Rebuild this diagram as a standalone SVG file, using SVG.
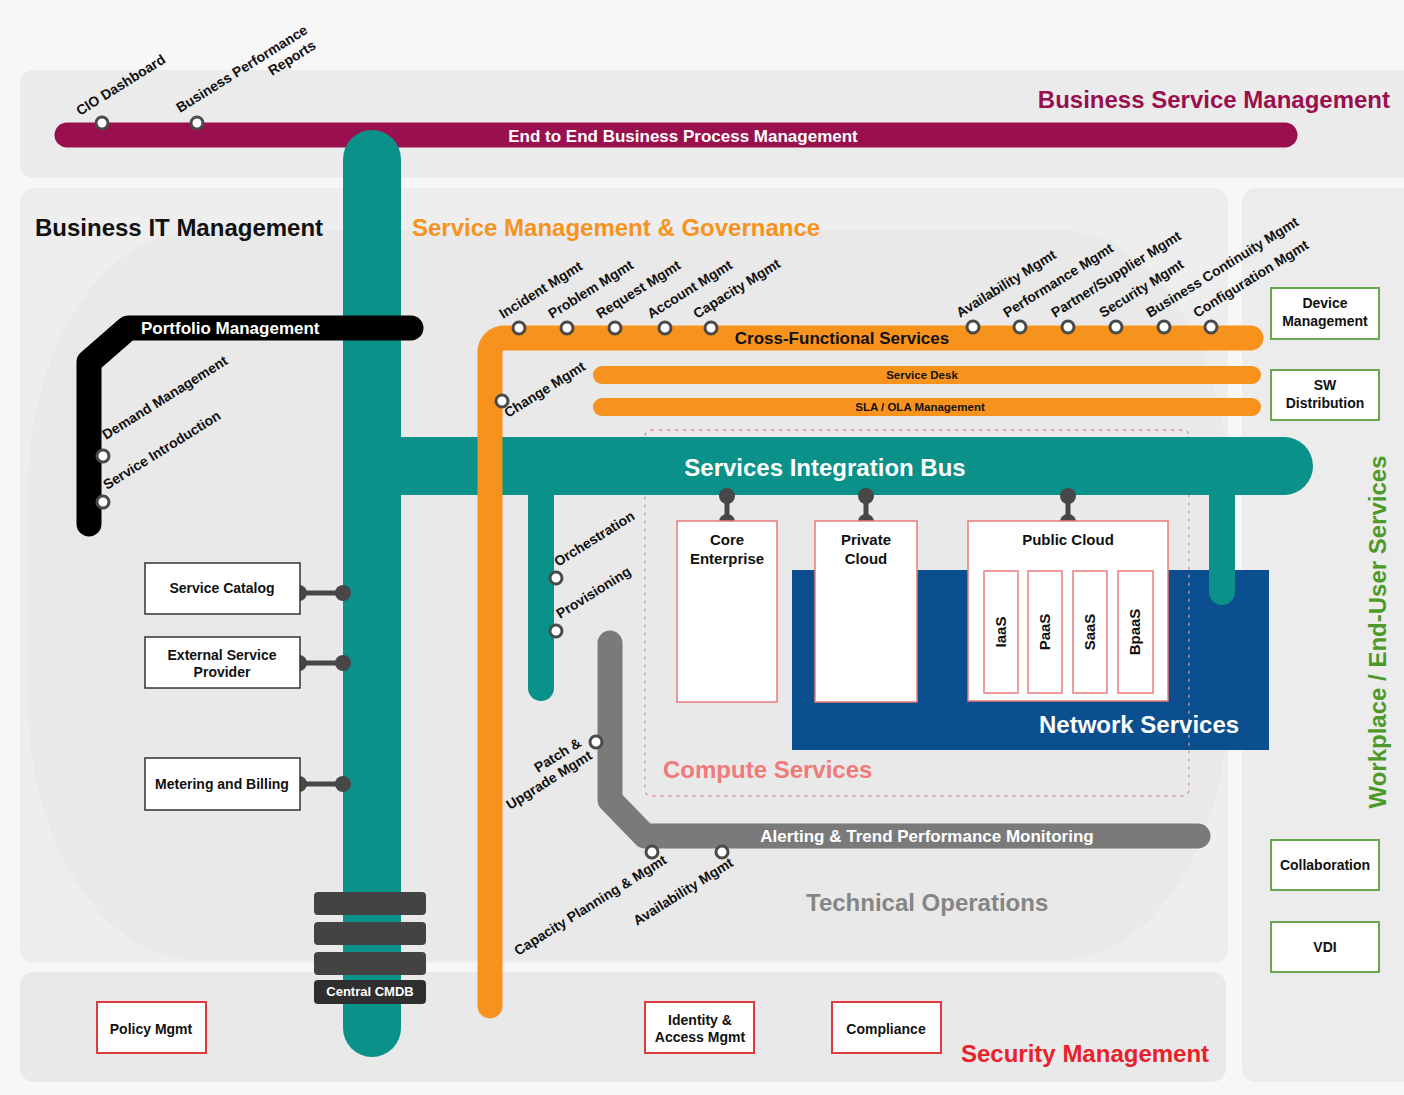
<svg xmlns="http://www.w3.org/2000/svg" width="1404" height="1095" viewBox="0 0 1404 1095">
  <style>
    text { font-family: "Liberation Sans", Arial, sans-serif; font-weight: bold; }
    .lbl { font-size: 14px; fill: #111; }
    .box { fill: #fff; stroke: #333; stroke-width: 1.5; }
    .gbox { fill: #fff; stroke: #6aa84f; stroke-width: 2; }
    .rbox { fill: #fff; stroke: #e0393e; stroke-width: 2; }
    .pbox { fill: #fff; stroke: #ec7b7b; stroke-width: 1.5; }
    .btxt { font-size: 14px; fill: #111; text-anchor: middle; }
    .ctxt { font-size: 15px; fill: #111; text-anchor: middle; }
    .stn { fill: #fff; stroke: #4a4a4a; stroke-width: 3; }
    .dot { fill: #474747; }
    .link { stroke: #474747; stroke-width: 5; }
    .line { fill: none; stroke-linecap: round; }
    .cmdb { fill: #434343; }
  </style>

  <!-- backdrop and area panels -->
  <rect x="0" y="0" width="1404" height="1095" fill="#f7f7f7"/>
  <rect x="20" y="70" width="1400" height="108" rx="14" fill="#ebebeb"/>
  <rect x="20" y="188" width="1208" height="775" rx="14" fill="#eeeeee"/>
  <rect x="28" y="230" width="1200" height="730" rx="170" ry="260" fill="#e9e9e9"/>
  <rect x="1242" y="188" width="180" height="894" rx="14" fill="#ececec"/>
  <rect x="20" y="972" width="1206" height="110" rx="14" fill="#e9e9e9"/>

  <!-- area titles -->
  <text x="1390" y="108" font-size="24" fill="#9a0f4e" text-anchor="end">Business Service Management</text>
  <text x="35" y="236" font-size="24" fill="#111">Business IT Management</text>
  <text x="412" y="236" font-size="24" fill="#f7931d">Service Management &amp; Governance</text>
  <text x="806" y="911" font-size="24" fill="#858585">Technical Operations</text>
  <text x="961" y="1062" font-size="24" fill="#e8222a">Security Management</text>
  <text transform="translate(1386,632) rotate(-90)" font-size="24" fill="#4d9a29" text-anchor="middle">Workplace / End-User Services</text>

  <!-- compute and network zones -->
  <rect x="792" y="570" width="477" height="180" fill="#0c4f8e"/>
  <rect x="645" y="430" width="544" height="366" rx="6" fill="none" stroke="#e09090" stroke-width="1.3" stroke-dasharray="3 5"/>
  <text x="663" y="778" font-size="24" fill="#f07a7a">Compute Services</text>
  <text x="1039" y="733" font-size="24" fill="#fff">Network Services</text>

  <!-- line network -->
  <g id="connectors">
    <path class="line" d="M67,135 L1285,135" stroke="#9a0f4e" stroke-width="25"/>
    <path class="line" d="M372,159 L372,1028" stroke="#0a9189" stroke-width="58"/>
    <path class="line" d="M372,466 L1284,466" stroke="#0a9189" stroke-width="58"/>
    <path class="line" d="M541,480 L541,688" stroke="#0a9189" stroke-width="26"/>
    <path class="line" d="M1222,480 L1222,592" stroke="#0a9189" stroke-width="26"/>
    <path class="line" d="M411,328 L128,328 L89,362 L89,524" stroke="#000" stroke-width="25" stroke-linejoin="round"/>
    <path class="line" d="M490,1006 L490,352 A14,14 0 0 1 504,338 L1251,338" stroke="#f7931d" stroke-width="25"/>
    <path class="line" d="M602,375 L1252,375" stroke="#f7931d" stroke-width="18"/>
    <path class="line" d="M602,407 L1252,407" stroke="#f7931d" stroke-width="18"/>
    <path class="line" d="M610,643 L610,800 L645,836 L1198,836" stroke="#7a7a7a" stroke-width="25" stroke-linejoin="round"/>

    <!-- attachment links -->
    <line class="link" x1="299" y1="593" x2="343" y2="593"/>
    <circle class="dot" cx="299" cy="593" r="8"/><circle class="dot" cx="343" cy="593" r="8"/>
    <line class="link" x1="299" y1="663" x2="343" y2="663"/>
    <circle class="dot" cx="299" cy="663" r="8"/><circle class="dot" cx="343" cy="663" r="8"/>
    <line class="link" x1="299" y1="784" x2="343" y2="784"/>
    <circle class="dot" cx="299" cy="784" r="8"/><circle class="dot" cx="343" cy="784" r="8"/>
    <line class="link" x1="727" y1="496" x2="727" y2="522"/>
    <circle class="dot" cx="727" cy="496" r="8"/><circle class="dot" cx="727" cy="522" r="8"/>
    <line class="link" x1="866" y1="496" x2="866" y2="522"/>
    <circle class="dot" cx="866" cy="496" r="8"/><circle class="dot" cx="866" cy="522" r="8"/>
    <line class="link" x1="1068" y1="496" x2="1068" y2="522"/>
    <circle class="dot" cx="1068" cy="496" r="8"/><circle class="dot" cx="1068" cy="522" r="8"/>
  </g>

  <!-- line titles -->
  <text x="683" y="142" font-size="17" fill="#fff" text-anchor="middle">End to End Business Process Management</text>
  <text x="141" y="334" font-size="17" fill="#fff">Portfolio Management</text>
  <text x="842" y="344" font-size="17" fill="#111" text-anchor="middle">Cross-Functional Services</text>
  <text x="922" y="379" font-size="11.5" fill="#111" text-anchor="middle">Service Desk</text>
  <text x="920" y="411" font-size="11.5" fill="#111" text-anchor="middle">SLA / OLA Management</text>
  <text x="825" y="476" font-size="24" fill="#fff" text-anchor="middle">Services Integration Bus</text>
  <text x="927" y="842" font-size="17" fill="#fff" text-anchor="middle">Alerting &amp; Trend Performance Monitoring</text>

  <!-- stations -->
  <g id="stations">
    <circle class="stn" cx="102" cy="123" r="6"/>
    <circle class="stn" cx="197" cy="123" r="6"/>
    <circle class="stn" cx="519" cy="328" r="6"/>
    <circle class="stn" cx="567" cy="328" r="6"/>
    <circle class="stn" cx="615" cy="328" r="6"/>
    <circle class="stn" cx="665" cy="328" r="6"/>
    <circle class="stn" cx="711" cy="328" r="6"/>
    <circle class="stn" cx="973" cy="327" r="6"/>
    <circle class="stn" cx="1020" cy="327" r="6"/>
    <circle class="stn" cx="1068" cy="327" r="6"/>
    <circle class="stn" cx="1116" cy="327" r="6"/>
    <circle class="stn" cx="1164" cy="327" r="6"/>
    <circle class="stn" cx="1211" cy="327" r="6"/>
    <circle class="stn" cx="502" cy="401" r="6"/>
    <circle class="stn" cx="103" cy="456" r="6"/>
    <circle class="stn" cx="103" cy="502" r="6"/>
    <circle class="stn" cx="556" cy="578" r="6"/>
    <circle class="stn" cx="556" cy="631" r="6"/>
    <circle class="stn" cx="596" cy="742" r="6"/>
    <circle class="stn" cx="652" cy="852" r="6"/>
    <circle class="stn" cx="722" cy="852" r="6"/>
  </g>

  <!-- station labels -->
  <g id="station-labels">
    <text class="lbl" transform="translate(80,116) rotate(-32)">CIO Dashboard</text>
    <text class="lbl" transform="translate(180,113) rotate(-32)">Business Performance</text>
    <text class="lbl" transform="translate(272,76) rotate(-32)">Reports</text>
    <text class="lbl" transform="translate(503,319) rotate(-32)">Incident Mgmt</text>
    <text class="lbl" transform="translate(552,319) rotate(-32)">Problem Mgmt</text>
    <text class="lbl" transform="translate(600,319) rotate(-32)">Request Mgmt</text>
    <text class="lbl" transform="translate(651,319) rotate(-32)">Account Mgmt</text>
    <text class="lbl" transform="translate(697,319) rotate(-32)">Capacity Mgmt</text>
    <text class="lbl" transform="translate(960,318) rotate(-32)">Availability Mgmt</text>
    <text class="lbl" transform="translate(1007,318) rotate(-32)">Performance Mgmt</text>
    <text class="lbl" transform="translate(1055,318) rotate(-32)">Partner/Supplier Mgmt</text>
    <text class="lbl" transform="translate(1103,318) rotate(-32)">Security Mgmt</text>
    <text class="lbl" transform="translate(1150,318) rotate(-32)">Business Continuity Mgmt</text>
    <text class="lbl" transform="translate(1197,318) rotate(-32)">Configuration Mgmt</text>
    <text class="lbl" transform="translate(508,418) rotate(-32)">Change Mgmt</text>
    <text class="lbl" transform="translate(106,440) rotate(-32)">Demand Management</text>
    <text class="lbl" transform="translate(107,490) rotate(-32)">Service Introduction</text>
    <text class="lbl" transform="translate(558,567) rotate(-32)">Orchestration</text>
    <text class="lbl" transform="translate(560,619) rotate(-32)">Provisioning</text>
    <text class="lbl" transform="translate(538,773) rotate(-32)">Patch &amp;</text>
    <text class="lbl" transform="translate(510,810) rotate(-32)">Upgrade Mgmt</text>
    <text class="lbl" transform="translate(518,956) rotate(-32)">Capacity Planning &amp; Mgmt</text>
    <text class="lbl" transform="translate(637,926) rotate(-32)">Availability Mgmt</text>
  </g>

  <!-- IT management boxes -->
  <g id="service-catalog">
    <rect class="box" x="145" y="563" width="155" height="51"/>
    <text class="btxt" x="222" y="593">Service Catalog</text>
  </g>
  <g id="external-service-provider">
    <rect class="box" x="145" y="637" width="155" height="51"/>
    <text class="btxt" x="222" y="660">External Service</text>
    <text class="btxt" x="222" y="677">Provider</text>
  </g>
  <g id="metering-billing">
    <rect class="box" x="145" y="758" width="155" height="52"/>
    <text class="btxt" x="222" y="789">Metering and Billing</text>
  </g>

  <!-- configuration database stack -->
  <g id="central-cmdb">
    <rect class="cmdb" x="314" y="892" width="112" height="23" rx="4"/>
    <rect class="cmdb" x="314" y="922" width="112" height="23" rx="4"/>
    <rect class="cmdb" x="314" y="952" width="112" height="23" rx="4"/>
    <rect x="314" y="980" width="112" height="24" rx="4" fill="#2f2f2f"/>
    <text x="370" y="996" font-size="13" fill="#fff" text-anchor="middle">Central CMDB</text>
  </g>

  <!-- compute boxes -->
  <g id="core-enterprise">
    <rect class="pbox" x="677" y="521" width="100" height="181"/>
    <text class="ctxt" x="727" y="545">Core</text>
    <text class="ctxt" x="727" y="564">Enterprise</text>
  </g>
  <g id="private-cloud">
    <rect class="pbox" x="815" y="521" width="102" height="181"/>
    <text class="ctxt" x="866" y="545">Private</text>
    <text class="ctxt" x="866" y="564">Cloud</text>
  </g>
  <g id="public-cloud">
    <rect class="pbox" x="968" y="521" width="200" height="180"/>
    <text class="ctxt" x="1068" y="545">Public Cloud</text>
  </g>
  <g id="iaas">
    <rect class="pbox" x="984" y="571" width="34" height="122"/>
    <text class="ctxt" transform="translate(1006,632) rotate(-90)">IaaS</text>
  </g>
  <g id="paas">
    <rect class="pbox" x="1028" y="571" width="34" height="122"/>
    <text class="ctxt" transform="translate(1050,632) rotate(-90)">PaaS</text>
  </g>
  <g id="saas">
    <rect class="pbox" x="1073" y="571" width="34" height="122"/>
    <text class="ctxt" transform="translate(1095,632) rotate(-90)">SaaS</text>
  </g>
  <g id="bpaas">
    <rect class="pbox" x="1118" y="571" width="35" height="122"/>
    <text class="ctxt" transform="translate(1140,632) rotate(-90)">BpaaS</text>
  </g>

  <!-- workplace boxes -->
  <g id="device-management">
    <rect class="gbox" x="1271" y="288" width="108" height="51"/>
    <text class="btxt" x="1325" y="308" font-size="13.5">Device</text>
    <text class="btxt" x="1325" y="326" font-size="13.5">Management</text>
  </g>
  <g id="sw-distribution">
    <rect class="gbox" x="1271" y="370" width="108" height="50"/>
    <text class="btxt" x="1325" y="390" font-size="13.5">SW</text>
    <text class="btxt" x="1325" y="408" font-size="13.5">Distribution</text>
  </g>
  <g id="collaboration">
    <rect class="gbox" x="1271" y="840" width="108" height="50"/>
    <text class="btxt" x="1325" y="870" font-size="13.5">Collaboration</text>
  </g>
  <g id="vdi">
    <rect class="gbox" x="1271" y="922" width="108" height="50"/>
    <text class="btxt" x="1325" y="952" font-size="13.5">VDI</text>
  </g>

  <!-- security boxes -->
  <g id="policy-mgmt">
    <rect class="rbox" x="97" y="1002" width="109" height="51"/>
    <text class="btxt" x="151" y="1034">Policy Mgmt</text>
  </g>
  <g id="identity-access-mgmt">
    <rect class="rbox" x="645" y="1002" width="109" height="51"/>
    <text class="btxt" x="700" y="1025">Identity &amp;</text>
    <text class="btxt" x="700" y="1042">Access Mgmt</text>
  </g>
  <g id="compliance">
    <rect class="rbox" x="832" y="1002" width="109" height="51"/>
    <text class="btxt" x="886" y="1034">Compliance</text>
  </g>
</svg>
